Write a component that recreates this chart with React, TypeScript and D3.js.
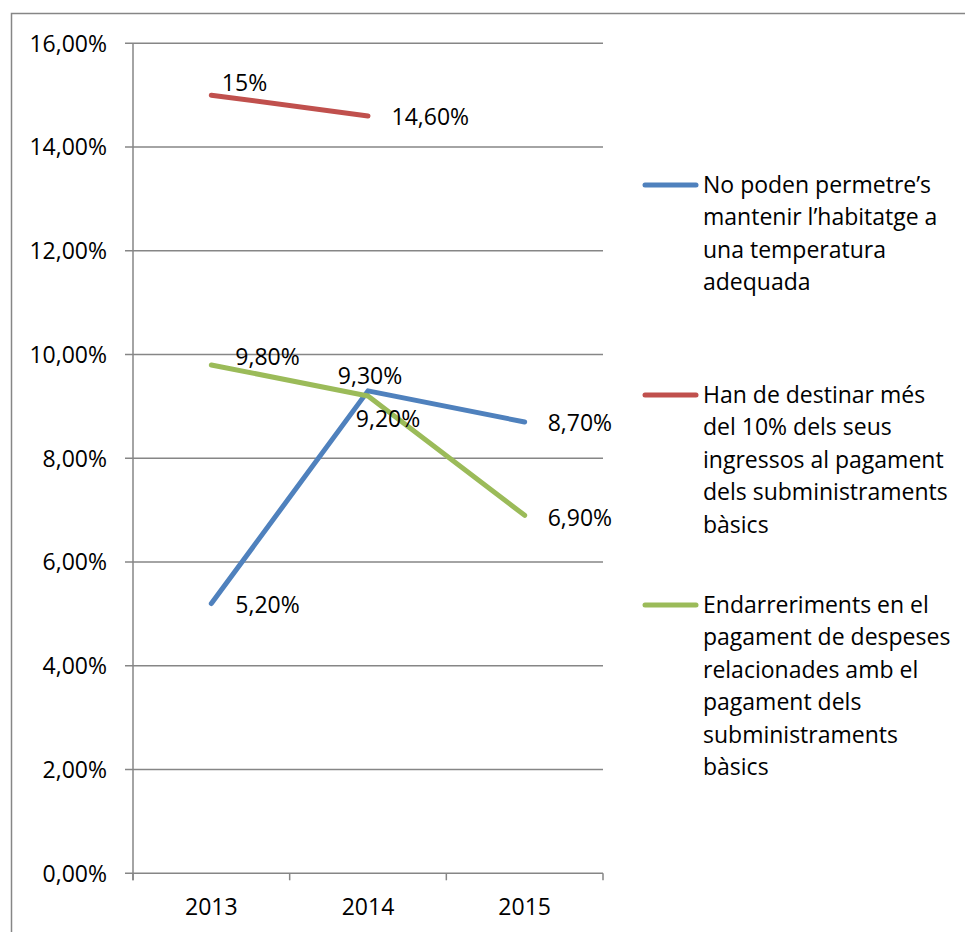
import React from "react";
import * as d3 from "d3";

// ---- data ----
const categories = ["2013", "2014", "2015"];
const seriesNames = [
  "No poden permetre’s mantenir l’habitatge a una temperatura adequada",
  "Han de destinar més del 10% dels seus ingressos al pagament dels subministraments bàsics",
  "Endarreriments en el pagament de despeses relacionades amb el pagament dels subministraments bàsics",
];
const blueValues: (number | null)[] = [0.052, 0.093, 0.087];
const redValues: (number | null)[] = [0.15, 0.146, null];
const greenValues: (number | null)[] = [0.098, 0.092, 0.069];
const blueLabels = ["5,20%", "9,30%", "8,70%"];
const redLabels = ["15%", "14,60%", ""];
const greenLabels = ["9,80%", "9,20%", "6,90%"];
const legendLines = [
  ["No poden permetre’s", "mantenir l’habitatge a", "una temperatura", "adequada"],
  ["Han de destinar més", "del 10% dels seus", "ingressos al pagament", "dels subministraments", "bàsics"],
  ["Endarreriments en el", "pagament de despeses", "relacionades amb el", "pagament dels", "subministraments", "bàsics"],
];
const yTicks = [0, 0.02, 0.04, 0.06, 0.08, 0.1, 0.12, 0.14, 0.16];

// ---- styling / layout ----
const colors = ["#4F81BD", "#C0504D", "#9BBB59"];
// label offsets relative to point (dx, baseline dy, anchor)
const labelPlacement: [number, number, string][][] = [
  [[24, 9, "start"], [2, -7, "middle"], [23, 9, "start"]],
  [[10.5, -4, "start"], [23.5, 9.5, "start"], [0, 0, "start"]],
  [[24, 0, "start"], [20, 31, "middle"], [23, 10.5, "start"]],
];

const FONT = "'Open Sans', sans-serif";
const FS = 23;
const GRID = "#868686";

export default function App() {
  const left = 133, right = 603, top = 43.3, bottom = 873.3;
  const x = d3.scaleBand<string>().domain(categories).range([left, right]).padding(0);
  const y = d3.scaleLinear().domain([0, 0.16]).range([bottom, top]);
  const cx = (c: string) => (x(c) as number) + x.bandwidth() / 2;
  const locale = d3.formatLocale({ decimal: ",", thousands: ".", grouping: [3], currency: ["", "€"], percent: "%" } as any);
  const fmt = locale.format(".2%");

  const series = [blueValues, redValues, greenValues];
  const labels = [blueLabels, redLabels, greenLabels];
  const line = d3
    .line<number | null>()
    .defined((d) => d !== null)
    .x((_, i) => cx(categories[i]))
    .y((d) => y(d as number));

  const boundaries = [...categories.map((c) => x(c) as number), right];

  return (
    <div style={{ position: "absolute", left: 0, top: 0 }}>
      <svg width={965} height={932} style={{ display: "block", fontFamily: FONT }}>
        <rect x={0} y={0} width={965} height={932} fill="#fff" />
        <rect x={11.5} y={13.5} width={1000} height={1000} fill="none" stroke={GRID} strokeWidth={1.5} />
        {/* gridlines */}
        {yTicks.map((t) => (
          <g key={t}>
            <line x1={125} x2={right} y1={y(t)} y2={y(t)} stroke={GRID} strokeWidth={1.5} />
            <text x={107} y={y(t)} dy={8.2} textAnchor="end" fontSize={FS} fill="#000">
              {fmt(t)}
            </text>
          </g>
        ))}
        <line x1={left} x2={left} y1={top} y2={bottom + 7} stroke={GRID} strokeWidth={1.5} />
        {boundaries.map((b, i) => (
          <line key={i} x1={b} x2={b} y1={bottom} y2={bottom + 7} stroke={GRID} strokeWidth={1.5} />
        ))}
        {categories.map((c) => (
          <text key={c} x={cx(c)} y={bottom + 42} textAnchor="middle" fontSize={FS} fill="#000">
            {c}
          </text>
        ))}
        {/* lines */}
        {series.map((s, i) => (
          <path key={i} d={line(s) || ""} fill="none" stroke={colors[i]} strokeWidth={5} strokeLinecap="round" strokeLinejoin="round" />
        ))}
        {/* data labels */}
        {series.map((s, i) =>
          s.map((v, j) =>
            v === null ? null : (
              <text
                key={`${i}-${j}`}
                x={cx(categories[j]) + labelPlacement[i][j][0]}
                y={y(v) + labelPlacement[i][j][1]}
                textAnchor={labelPlacement[i][j][2] as any}
                fontSize={FS}
                fill="#000"
              >
                {labels[i][j]}
              </text>
            )
          )
        )}
        {/* legend */}
        {seriesNames.map((name, i) => {
          const ly = 185 + i * 210;
          return (
            <g key={name}>
              <line x1={645} x2={696} y1={ly} y2={ly} stroke={colors[i]} strokeWidth={5} strokeLinecap="round" />
              <text x={703} y={ly + 8} fontSize={FS} fill="#000">
                {legendLines[i].map((l, k) => (
                  <tspan key={k} x={703} dy={k === 0 ? 0 : 32.4}>
                    {l}
                  </tspan>
                ))}
              </text>
            </g>
          );
        })}
      </svg>
    </div>
  );
}
